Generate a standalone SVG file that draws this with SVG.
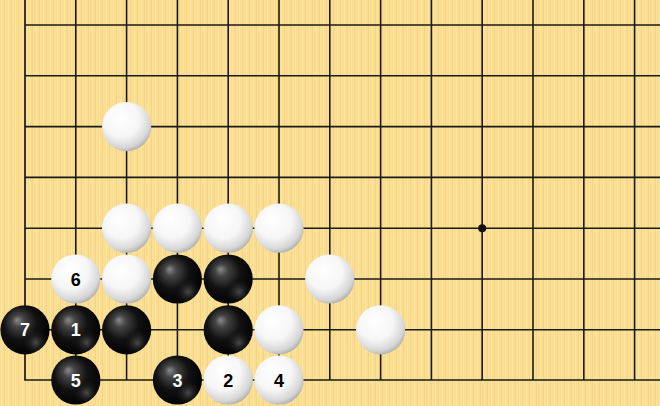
<svg xmlns="http://www.w3.org/2000/svg" width="660" height="406" viewBox="0 0 660 406">
<defs>
<pattern id="wood" x="0" y="0" width="7" height="10" patternUnits="userSpaceOnUse">
<rect width="7" height="10" fill="#FADD8F"/>
<rect x="1" width="1" height="10" fill="#FCE4A2"/>
<rect x="4" width="1" height="10" fill="#F5D585"/>
<rect x="5.5" width="0.8" height="10" fill="#FBE19A"/>
</pattern>
<radialGradient id="gw" cx="0.42" cy="0.38" r="0.66" fx="0.36" fy="0.3">
<stop offset="0" stop-color="#ffffff"/>
<stop offset="0.55" stop-color="#f6f6f6"/>
<stop offset="0.85" stop-color="#d6d6d6"/>
<stop offset="1" stop-color="#a9a9a9"/>
</radialGradient>
<radialGradient id="gb" cx="0.45" cy="0.42" r="0.62" fx="0.34" fy="0.3">
<stop offset="0" stop-color="#8a8a8a"/>
<stop offset="0.2" stop-color="#444"/>
<stop offset="0.55" stop-color="#111"/>
<stop offset="1" stop-color="#000000"/>
</radialGradient>
<radialGradient id="gbr" cx="0.72" cy="0.76" r="0.3">
<stop offset="0" stop-color="#666" stop-opacity="0.7"/>
<stop offset="1" stop-color="#000" stop-opacity="0"/>
</radialGradient>
<circle id="w" r="24.6" fill="url(#gw)"/>
<g id="b"><circle r="24.6" fill="url(#gb)"/><circle r="24.6" fill="url(#gbr)"/></g>
</defs>
<style>
.ln{stroke:#1a1a1a;stroke-width:1.6;fill:none}
.ed{stroke:#1a1a1a;stroke-width:1.7;fill:none}
.t{font-family:"Liberation Sans",Arial,sans-serif;font-weight:bold;font-size:18px;text-anchor:middle}
.tw{fill:#ffffff}
.tb{fill:#000000}
</style>
<rect width="660" height="406" fill="url(#wood)"/>
<g id="grid">
<path class="ln" d="M75.8 0V380M126.6 0V380M177.4 0V380M228.2 0V380M279 0V380M329.8 0V380M380.6 0V380M431.4 0V380M482.2 0V380M533 0V380M583.8 0V380M634.6 0V380"/>
<path class="ln" d="M25 25H660M25 75.8H660M25 126.6H660M25 177.4H660M25 228.2H660M25 279H660M25 329.8H660"/>
<path class="ed" d="M25 0V380H660"/>
<circle cx="482.2" cy="228.2" r="4" fill="#111"/>
</g>
<g id="connectors"/>
<g id="w1"><use href="#w" x="126.6" y="126.6"/></g>
<g id="w2"><use href="#w" x="126.6" y="228.2"/></g>
<g id="w3"><use href="#w" x="177.4" y="228.2"/></g>
<g id="w4"><use href="#w" x="228.2" y="228.2"/></g>
<g id="w5"><use href="#w" x="279" y="228.2"/></g>
<g id="w6"><use href="#w" x="75.8" y="279"/><text class="t tb" x="75.8" y="285.5">6</text></g>
<g id="w7"><use href="#w" x="126.6" y="279"/></g>
<g id="b1"><use href="#b" x="177.4" y="279"/></g>
<g id="b2"><use href="#b" x="228.2" y="279"/></g>
<g id="w8"><use href="#w" x="329.8" y="279"/></g>
<g id="b7"><use href="#b" x="25" y="329.8"/><text class="t tw" x="25" y="336.3">7</text></g>
<g id="bn1"><use href="#b" x="75.8" y="329.8"/><text class="t tw" x="75.8" y="336.3">1</text></g>
<g id="b3"><use href="#b" x="126.6" y="329.8"/></g>
<g id="b4"><use href="#b" x="228.2" y="329.8"/></g>
<g id="w9"><use href="#w" x="279" y="329.8"/></g>
<g id="w10"><use href="#w" x="380.6" y="329.8"/></g>
<g id="b5"><use href="#b" x="75.8" y="380"/><text class="t tw" x="75.8" y="386.5">5</text></g>
<g id="bn3"><use href="#b" x="177.4" y="380"/><text class="t tw" x="177.4" y="386.5">3</text></g>
<g id="wn2"><use href="#w" x="228.2" y="380"/><text class="t tb" x="228.2" y="386.5">2</text></g>
<g id="wn4"><use href="#w" x="279" y="380"/><text class="t tb" x="279" y="386.5">4</text></g>
</svg>
